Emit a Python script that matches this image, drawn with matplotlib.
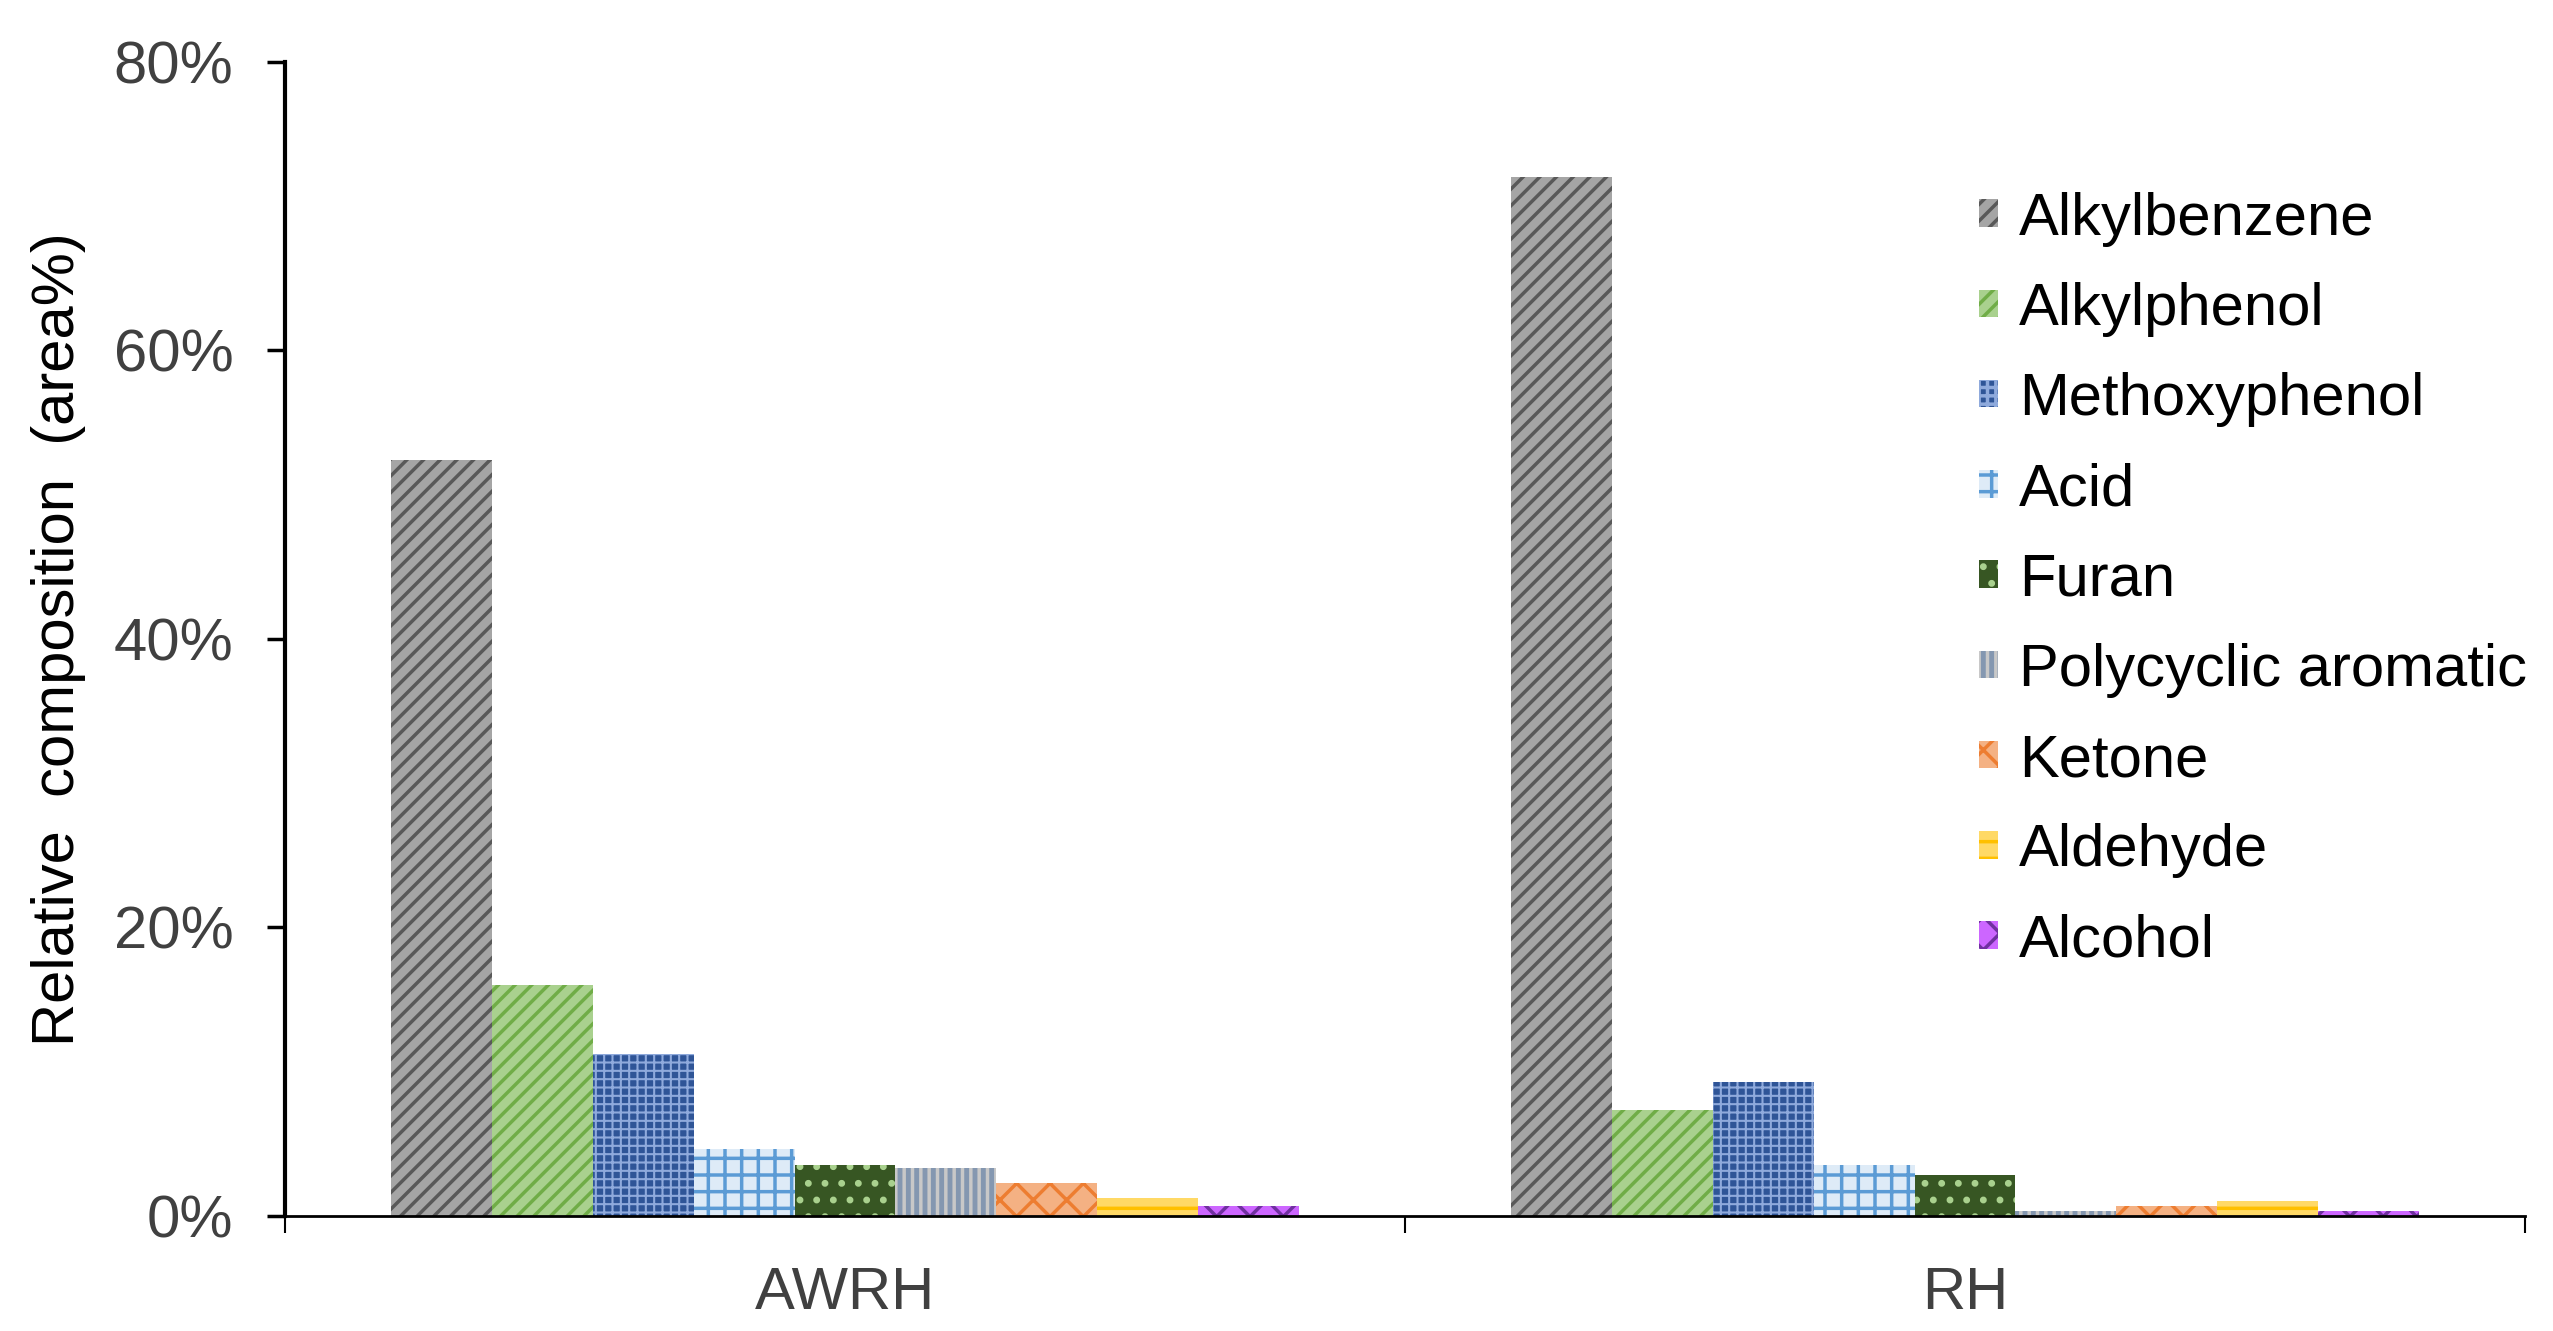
import numpy as np
import matplotlib
matplotlib.use("Agg")
import matplotlib.pyplot as plt
from matplotlib.ticker import PercentFormatter

# data (area%)
groups = ["AWRH", "RH"]
compounds = ["Alkylbenzene", "Alkylphenol", "Methoxyphenol", "Acid", "Furan",
             "Polycyclic aromatic", "Ketone", "Aldehyde", "Alcohol"]
awrh = [52.4, 16.0, 11.2, 4.6, 3.5, 3.3, 2.3, 1.2, 0.7]
rh = [72.0, 7.3, 9.3, 3.5, 2.8, 0.3, 0.7, 1.0, 0.3]

# fill colour, hatch colour, hatch pattern, hatch width
faces = ["#A5A5A5", "#A9D18E", "#2F5597", "#DEEBF7", "#375623",
         "#8497B0", "#F4B183", "#FFD966", "#CC66FF"]
hcols = ["#595959", "#70AD47", "#8FAADC", "#5B9BD5", "#A9D18E",
         "#C8C8C8", "#ED7D31", "#FFC000", "#7030A0"]
hatches = ["//", "//", "++", "+", ".", "||", "x", "-", "x"]
hwidths = [2.5, 2.5, 1.5, 2.5, 2.5, 2.5, 2.5, 2.5, 2.5]

plt.rcParams['font.family'] = ['Liberation Sans', 'DejaVu Sans']
plt.rcParams['hatch.linewidth'] = 2.5

fig = plt.figure(figsize=(25.53, 13.31), dpi=100)
ax = fig.add_axes([0.1116, 0.0866, 0.8774, 0.8668])

x = np.arange(len(groups))
n = len(compounds)
width = 0.81 / n
for i in range(n):
    vals = [awrh[i], rh[i]]
    with plt.rc_context({'hatch.linewidth': hwidths[i]}):
        ax.bar(x + (i - (n - 1) / 2) * width, vals, width,
               color=faces[i], edgecolor=hcols[i], hatch=hatches[i],
               linewidth=0, label=compounds[i])

ax.set_xlim(-0.5, 1.5)
ax.set_ylim(0, 80)
ax.set_yticks([0, 20, 40, 60, 80])
ax.yaxis.set_major_formatter(PercentFormatter(decimals=0))
ax.tick_params(axis='y', direction='out', length=13, width=2.5,
               labelsize=43, pad=24, labelcolor='#404040')

ax.set_xticks([-0.5, 0.5, 1.5])
ax.set_xticklabels([])
ax.set_xticks(x, minor=True)
ax.set_xticklabels(groups, minor=True)
ax.tick_params(axis='x', which='major', direction='out', length=12, width=1.5)
ax.tick_params(axis='x', which='minor', length=0, labelsize=43, pad=36,
               labelcolor='#404040')

for s in ['top', 'right']:
    ax.spines[s].set_visible(False)
ax.spines['left'].set_linewidth(3)
ax.spines['bottom'].set_linewidth(2)

ax.set_ylabel("Relative  composition  (area%)", fontsize=43, labelpad=20)

ax.legend(loc='upper left', bbox_to_anchor=(0.775, 0.856),
          bbox_transform=fig.transFigure, frameon=False, fontsize=43,
          handlelength=0.33, handleheight=0.33, handletextpad=0.35,
          labelspacing=0.59, borderaxespad=0, borderpad=0)

fig.savefig("out.png", dpi=100)
